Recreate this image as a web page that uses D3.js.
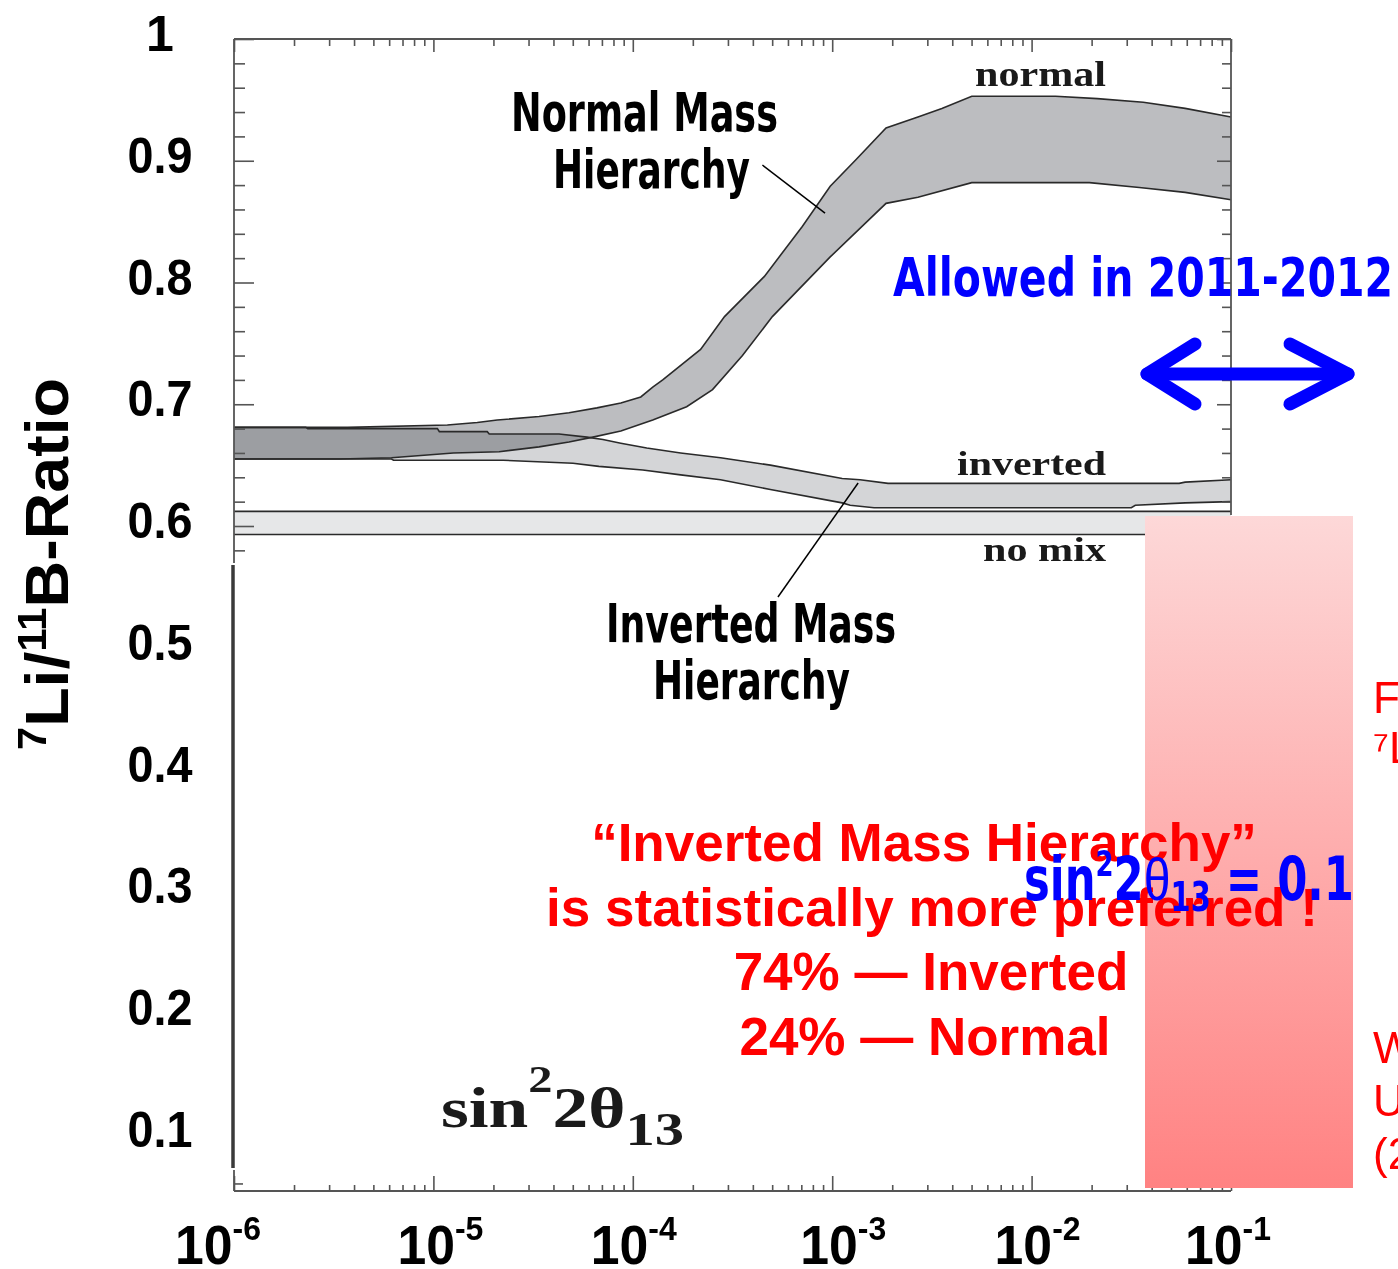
<!DOCTYPE html>
<html><head><meta charset="utf-8">
<script src="https://cdn.jsdelivr.net/npm/d3@7"></script>
<style>body{margin:0;background:#fff;} svg{display:block;}</style>
</head><body><svg id="chart" width="1398" height="1269"></svg>
<script>
// ---------- data ----------
const yTickValues = [1, 0.9, 0.8, 0.7, 0.6, 0.5, 0.4, 0.3, 0.2, 0.1];
const yTickLabels = ["1", "0.9", "0.8", "0.7", "0.6", "0.5", "0.4", "0.3", "0.2", "0.1"];
const xDecades = [-6, -5, -4, -3, -2, -1];
const xTickLabels = ["-6", "-5", "-4", "-3", "-2", "-1"];
// [log10(sin^2 2θ13), 7Li/11B ratio]
const normalUpper = [[-6.0,0.681],[-5.43,0.681],[-4.93,0.683],[-4.78,0.685],[-4.68,0.687],[-4.47,0.690],[-4.32,0.693],[-4.18,0.697],[-4.06,0.701],[-3.96,0.706],[-3.90,0.714],[-3.85,0.720],[-3.66,0.745],[-3.54,0.772],[-3.34,0.805],[-3.15,0.846],[-3.01,0.879],[-2.88,0.901],[-2.73,0.927],[-2.57,0.936],[-2.45,0.943],[-2.30,0.953],[-1.88,0.953],[-1.67,0.951],[-1.44,0.948],[-1.23,0.943],[-1.0,0.936]];
const normalLower = [[-6.0,0.655],[-5.47,0.655],[-5.21,0.656],[-4.90,0.660],[-4.67,0.661],[-4.47,0.665],[-4.32,0.669],[-4.20,0.673],[-4.06,0.678],[-3.90,0.687],[-3.73,0.698],[-3.60,0.712],[-3.45,0.740],[-3.30,0.772],[-3.01,0.821],[-2.73,0.865],[-2.57,0.870],[-2.30,0.882],[-1.71,0.882],[-1.46,0.878],[-1.23,0.874],[-1.0,0.868]];
const invertedUpper = [[-6.0,0.681],[-5.64,0.681],[-5.63,0.680],[-4.98,0.680],[-4.97,0.6775],[-4.73,0.6775],[-4.72,0.6756],[-4.37,0.6756],[-4.23,0.673],[-4.15,0.671],[-4.06,0.668],[-3.93,0.664],[-3.76,0.660],[-3.56,0.656],[-3.31,0.650],[-2.95,0.639],[-2.86,0.638],[-2.72,0.635],[-1.26,0.635],[-1.23,0.636],[-1.0,0.638]];
const invertedLower = [[-6.0,0.655],[-5.21,0.655],[-5.20,0.654],[-4.65,0.654],[-4.30,0.6515],[-4.17,0.649],[-3.95,0.646],[-3.76,0.642],[-3.56,0.638],[-3.31,0.630],[-2.95,0.619],[-2.91,0.617],[-2.79,0.615],[-1.50,0.615],[-1.48,0.617],[-1.23,0.619],[-1.0,0.620]];
const noMixUpper = [[-6.0,0.612],[-1.0,0.612]];
const noMixLower = [[-6.0,0.593],[-1.0,0.593]];

// ---------- scales ----------
const svg = d3.select("#chart");
const x = d3.scaleLog().domain([1e-6, 1e-1]).range([234, 1231]);
const y = d3.scaleLinear().domain([0.6, 1]).range([526, 39]);
const px = d => x(Math.pow(10, d[0]));
const py = d => y(d[1]);
const line = d3.line().x(px).y(py);
const band = (up, lo) => line([...up, ...lo.slice().reverse()]) + "Z";

const SANS = "'Liberation Sans', Arial, sans-serif";
const NARROW = "'Liberation Sans Narrow', 'Arial Narrow', 'DejaVu Sans Condensed', sans-serif";
const SERIF = "'Liberation Serif', 'Times New Roman', serif";

svg.append("rect").attr("width", 1398).attr("height", 1269).attr("fill", "#fff");

const defs = svg.append("defs");
const grad = defs.append("linearGradient").attr("id", "pink").attr("x1", 0).attr("x2", 0).attr("y1", 0).attr("y2", 1);
grad.append("stop").attr("offset", "0%").attr("stop-color", "#fdd8d8");
grad.append("stop").attr("offset", "100%").attr("stop-color", "#ff8282");

// ---------- bands ----------
const g = svg.append("g");
g.append("path").attr("d", band(noMixUpper, noMixLower)).attr("fill", "#e6e7e8");
g.append("path").attr("d", band(normalUpper, normalLower)).attr("fill", "#bcbdc0");
g.append("path").attr("d", band(invertedUpper, invertedLower)).attr("fill", "#d4d5d7").style("mix-blend-mode", "multiply");
[normalUpper, normalLower, invertedUpper, invertedLower, noMixUpper, noMixLower].forEach(s => {
  g.append("path").attr("d", line(s)).attr("fill", "none").attr("stroke", "#2a2a2a").attr("stroke-width", 1.6);
});

// ---------- axes ----------
const minorX = [];
for (let d = -6; d < -1; d++) for (let k = 2; k <= 9; k++) minorX.push(k * Math.pow(10, d));
const majorX = xDecades.map(d => Math.pow(10, d));
const axStyle = sel => { sel.select(".domain").remove(); sel.selectAll("line").attr("stroke", "#555").attr("stroke-width", 1.6); sel.selectAll("text").remove(); };

svg.append("g").attr("transform", "translate(0,39)").call(d3.axisBottom(x).tickValues(majorX).tickSize(13).tickFormat("")).call(axStyle);
svg.append("g").attr("transform", "translate(0,39)").call(d3.axisBottom(x).tickValues(minorX).tickSize(7).tickFormat("")).call(axStyle);
svg.append("g").attr("transform", "translate(0,1191)").call(d3.axisTop(x).tickValues(majorX).tickSize(15).tickFormat("")).call(axStyle);
svg.append("g").attr("transform", "translate(0,1191)").call(d3.axisTop(x).tickValues(minorX).tickSize(6).tickFormat("")).call(axStyle);

const leftMajor = [1, 0.9, 0.8, 0.7, 0.6];
const leftMinor = d3.range(0.58, 1.0, 0.02).filter(v => !leftMajor.some(m => Math.abs(m - v) < 1e-6));
const rightMinor = leftMinor.filter(v => v > 0.61);
svg.append("g").attr("transform", "translate(234,0)").call(d3.axisRight(y).tickValues(leftMajor).tickSize(20).tickFormat("")).call(axStyle);
svg.append("g").attr("transform", "translate(234,0)").call(d3.axisRight(y).tickValues(leftMinor).tickSize(11).tickFormat("")).call(axStyle);
svg.append("g").attr("transform", "translate(1231,0)").call(d3.axisLeft(y).tickValues([1, 0.9, 0.8, 0.7]).tickSize(14).tickFormat("")).call(axStyle);
svg.append("g").attr("transform", "translate(1231,0)").call(d3.axisLeft(y).tickValues(rightMinor).tickSize(9).tickFormat("")).call(axStyle);
svg.append("g").attr("transform", "translate(234,0)").call(d3.axisRight(y).tickValues([0.06]).tickSize(9).tickFormat("")).call(axStyle);

// frame lines
const fr = svg.append("g").attr("stroke", "#555").attr("stroke-width", 1.8).attr("fill", "none");
fr.append("line").attr("x1", 234).attr("x2", 1231).attr("y1", y(1)).attr("y2", y(1));
fr.append("line").attr("x1", 234).attr("x2", 234).attr("y1", y(1)).attr("y2", 563);
fr.append("line").attr("x1", 1231).attr("x2", 1231).attr("y1", y(1)).attr("y2", 515);
fr.append("line").attr("x1", 234).attr("x2", 1231).attr("y1", 1191).attr("y2", 1191);
fr.append("line").attr("x1", 234).attr("x2", 234).attr("y1", 1170).attr("y2", 1191);
svg.append("line").attr("x1", 233).attr("x2", 233).attr("y1", 565).attr("y2", 1168).attr("stroke", "#3a3a3a").attr("stroke-width", 3.5);

// tick labels
svg.append("g").selectAll("text").data(yTickValues).join("text")
  .attr("x", 160).attr("y", d => y(d) + 12).attr("text-anchor", "middle")
  .attr("font-family", SANS).attr("font-weight", "bold").attr("font-size", 50).attr("fill", "#000")
  .each(function(d, i) { if (yTickLabels[i].length > 1) d3.select(this).attr("textLength", 65).attr("lengthAdjust", "spacingAndGlyphs"); })
  .text((d, i) => yTickLabels[i]);

const xLabelNudge = [-16, 7, 1, 11, 6, -3];
const xl = svg.append("g").selectAll("text").data(xDecades).join("text")
  .attr("x", (d, i) => x(Math.pow(10, d)) + xLabelNudge[i] - 43).attr("y", 1264)
  .attr("textLength", 86).attr("lengthAdjust", "spacingAndGlyphs")
  .attr("font-family", SANS).attr("font-weight", "bold").attr("font-size", 55).attr("fill", "#000");
xl.append("tspan").text("10");
xl.append("tspan").attr("font-size", 34).attr("dy", -24).text((d, i) => xTickLabels[i]);

// y axis title
const yt = svg.append("text").attr("transform", "translate(68,564) rotate(-90)").attr("text-anchor", "middle")
  .attr("textLength", 372).attr("lengthAdjust", "spacingAndGlyphs")
  .attr("font-family", SANS).attr("font-weight", "bold").attr("font-size", 62).attr("fill", "#000");
yt.append("tspan").attr("font-size", 40).attr("dy", -22).text("7");
yt.append("tspan").attr("dy", 22).text("Li/");
yt.append("tspan").attr("font-size", 40).attr("dy", -22).text("11");
yt.append("tspan").attr("dy", 22).text("B-Ratio");

// serif band labels
const serifLabel = (t, x0, y0, len, fs) => svg.append("text").attr("x", x0).attr("y", y0)
  .attr("font-family", SERIF).attr("font-weight", "bold").attr("font-size", fs).attr("fill", "#1a1a1a")
  .attr("textLength", len).attr("lengthAdjust", "spacingAndGlyphs").text(t);
serifLabel("normal", 975, 86, 131, 35);
serifLabel("inverted", 957, 475, 149, 34);
serifLabel("no mix", 983, 561, 123, 34);

// annotation labels (condensed bold)
const narrow = (t, x0, y0, len, fs, col) => svg.append("text").attr("x", x0).attr("y", y0)
  .attr("font-family", NARROW).attr("font-weight", "bold").attr("font-size", fs).attr("fill", col || "#000")
  .attr("textLength", len).attr("lengthAdjust", "spacingAndGlyphs").text(t);
narrow("Normal Mass", 511, 131, 267, 54);
narrow("Hierarchy", 553, 188, 197, 54);
narrow("Inverted Mass", 606, 642, 290, 54);
narrow("Hierarchy", 653, 699, 197, 54);
narrow("Allowed in 2011-2012", 893, 296, 500, 54, "#0000ff");

// pointer lines (in data coordinates)
const pointers = [[[-3.35, 0.8965], [-3.036, 0.857]], [[-3.272, 0.5417], [-2.87, 0.6353]]];
pointers.forEach(p => svg.append("path").attr("d", line(p)).attr("stroke", "#000").attr("stroke-width", 1.5).attr("fill", "none"));

// bottom-left serif formula
const f = svg.append("text").attr("x", 441).attr("y", 1127)
  .attr("textLength", 243).attr("lengthAdjust", "spacingAndGlyphs")
  .attr("font-family", SERIF).attr("font-weight", "bold").attr("font-size", 56).attr("fill", "#1a1a1a");
f.append("tspan").text("sin");
f.append("tspan").attr("font-size", 38).attr("dy", -35).text("2");
f.append("tspan").attr("dy", 35).text("2θ");
f.append("tspan").attr("font-size", 46).attr("dy", 18).text("13");

// pink box
svg.append("rect").attr("x", 1145).attr("y", 516).attr("width", 208).attr("height", 672).attr("fill", "url(#pink)");

// red conclusion text
const redLines = ["“Inverted Mass Hierarchy”", "is statistically more preferred !", "74% — Inverted", "24% — Normal"];
svg.append("g").selectAll("text").data(redLines).join("text")
  .attr("x", (d, i) => [924, 932, 931, 925][i]).attr("y", (d, i) => 861 + i * 64.5).attr("text-anchor", "middle")
  .attr("font-family", SANS).attr("font-weight", "bold").attr("font-size", 53).attr("fill", "#ff0000")
  .text(d => d);

// red clipped side text
const sideLines = [["F", 697], ["⁷L", 747], ["W", 1047], ["U", 1100], ["(2", 1153]];
svg.append("g").selectAll("text").data(sideLines).join("text")
  .attr("x", 1373).attr("y", d => d[1] + 16)
  .attr("font-family", SANS).attr("font-size", 44).attr("fill", "#ff0000").text(d => d[0]);

// blue formula
const bf = svg.append("text").attr("x", 1024).attr("y", 900)
  .attr("textLength", 330).attr("lengthAdjust", "spacingAndGlyphs")
  .attr("font-family", NARROW).attr("font-weight", "bold").attr("font-size", 60).attr("fill", "#0000ff");
bf.append("tspan").text("sin");
bf.append("tspan").attr("font-size", 36).attr("dy", -24).text("2");
bf.append("tspan").attr("dy", 24).text("2");
bf.append("tspan").attr("font-family", SANS).attr("font-weight", "normal").text("θ");
bf.append("tspan").attr("font-size", 40).attr("dy", 11).text("13");
bf.append("tspan").attr("dy", -11).text(" = 0.1");

// blue double arrow
const arrow = svg.append("g").attr("stroke", "#0000ff").attr("stroke-width", 13).attr("fill", "none")
  .attr("stroke-linecap", "round").attr("stroke-linejoin", "round");
arrow.append("line").attr("x1", 1147).attr("x2", 1348).attr("y1", 374).attr("y2", 374);
arrow.append("polyline").attr("points", "1195,344 1147,374 1195,404");
arrow.append("polyline").attr("points", "1290,344 1348,374 1290,404");
</script></body></html>
